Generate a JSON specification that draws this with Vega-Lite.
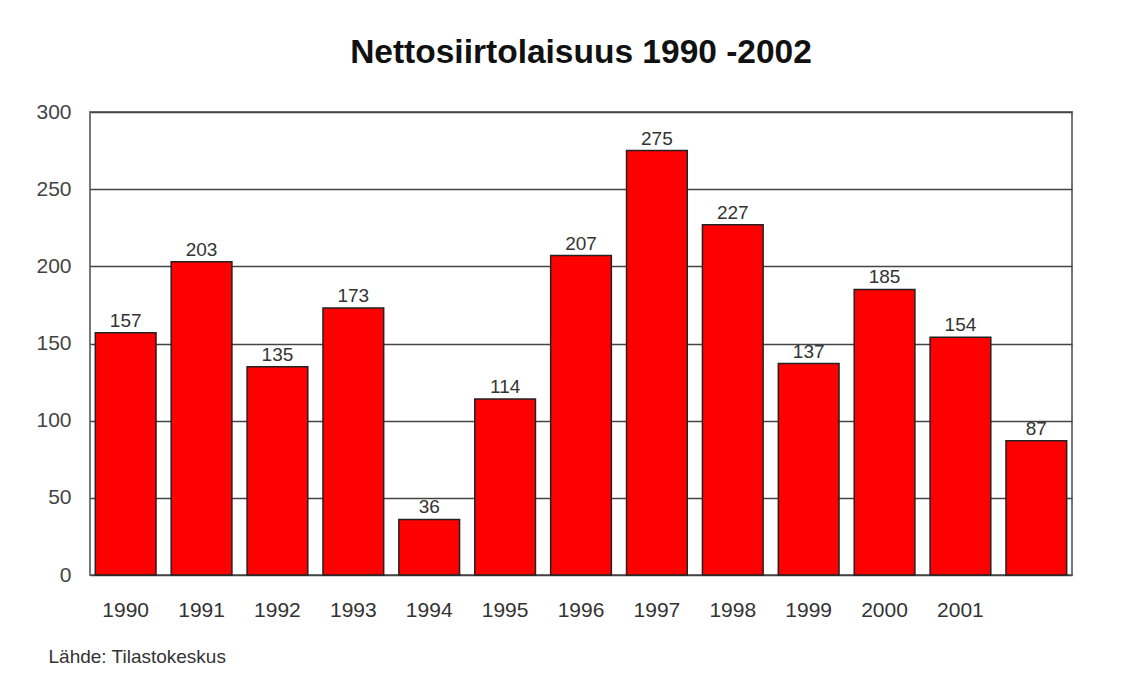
{
  "$schema": "https://vega.github.io/schema/vega-lite/v6.json",
  "autosize": "none",
  "width": 982,
  "height": 463,
  "padding": {"left": 90, "top": 112, "right": 58, "bottom": 102},
  "background": "white",
  "config": {
    "font": "Liberation Sans",
    "view": {"stroke": "#777", "strokeWidth": 2}
  },
  "title": {
    "text": "Nettosiirtolaisuus 1990 -2002",
    "fontSize": 33.5,
    "fontWeight": "bold",
    "font": "Liberation Sans",
    "color": "#111",
    "anchor": "middle",
    "frame": "group",
    "baseline": "alphabetic",
    "offset": 5
  },
  "data": {
    "values": [
      {"year": "1990", "value": 157},
      {"year": "1991", "value": 203},
      {"year": "1992", "value": 135},
      {"year": "1993", "value": 173},
      {"year": "1994", "value": 36},
      {"year": "1995", "value": 114},
      {"year": "1996", "value": 207},
      {"year": "1997", "value": 275},
      {"year": "1998", "value": 227},
      {"year": "1999", "value": 137},
      {"year": "2000", "value": 185},
      {"year": "2001", "value": 154},
      {"year": "2002", "value": 87}
    ]
  },
  "encoding": {
    "x": {
      "field": "year",
      "type": "nominal",
      "sort": null,
      "scale": {"paddingInner": 0.2, "paddingOuter": 0.07},
      "axis": {
        "title": "Lähde: Tilastokeskus",
        "titleFontSize": 19,
        "titleFontWeight": "normal",
        "titleColor": "#333",
        "titleAnchor": "start",
        "titleAlign": "left",
        "titleBaseline": "alphabetic",
        "titleX": -42,
        "titleY": 87,
        "labelAngle": 0,
        "labelFontSize": 21,
        "labelColor": "#333",
        "labelPadding": 24,
        "labelExpr": "datum.value == '2002' ? '' : datum.label",
        "ticks": false,
        "domain": false
      }
    },
    "y": {
      "field": "value",
      "type": "quantitative",
      "scale": {"domain": [0, 300]},
      "axis": {
        "title": null,
        "values": [0, 50, 100, 150, 200, 250, 300],
        "grid": true,
        "gridColor": "#444",
        "gridWidth": 1.5,
        "ticks": false,
        "domain": false,
        "labelFontSize": 21,
        "labelColor": "#444",
        "labelPadding": 19
      }
    }
  },
  "layer": [
    {
      "mark": {"type": "bar", "color": "#FF0000", "stroke": "#222", "strokeWidth": 1.5}
    },
    {
      "mark": {"type": "text", "baseline": "bottom", "dy": -2, "fontSize": 19, "color": "#333"},
      "encoding": {"text": {"field": "value", "type": "quantitative"}}
    }
  ]
}
